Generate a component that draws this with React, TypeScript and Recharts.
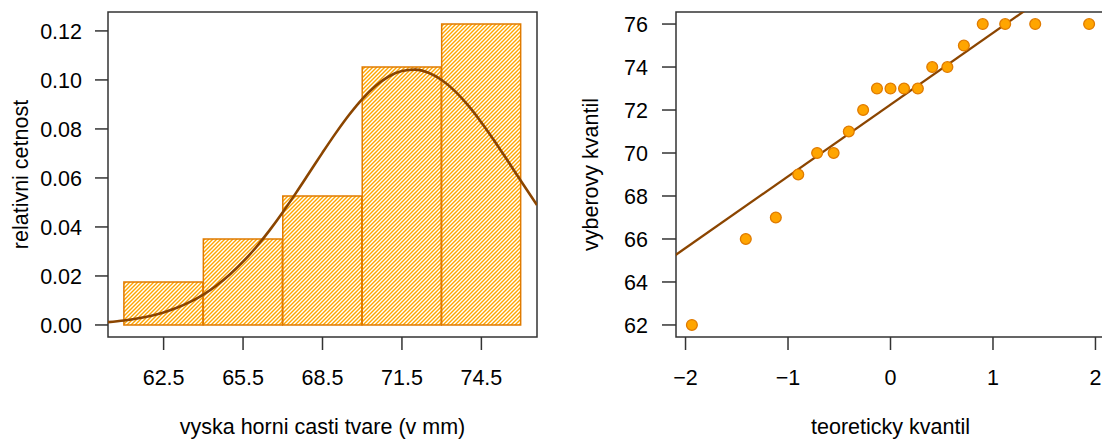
import React from 'react'
import {
  ComposedChart,
  Bar,
  Line,
  Scatter,
  XAxis,
  YAxis,
  ReferenceArea,
  Label,
} from 'recharts'

// histogram: bins of 3 mm, relative frequency density
const binMid = [62.5, 65.5, 68.5, 71.5, 74.5]
const binDensity = [0.01754, 0.03509, 0.05263, 0.10526, 0.12281]
const histTicks = [62.5, 65.5, 68.5, 71.5, 74.5]
const densityTicks = [0, 0.02, 0.04, 0.06, 0.08, 0.1, 0.12]

// fitted normal curve
const curveX = [
  60.4, 61, 61.5, 62, 62.5, 63, 63.5, 64, 64.5, 65, 65.5, 66, 66.5, 67, 67.5,
  68, 68.5, 69, 69.5, 70, 70.5, 71, 71.5, 72, 72.5, 73, 73.5, 74, 74.5, 75,
  75.5, 76, 76.6,
]
const curveY = [
  0.00115, 0.00182, 0.00261, 0.00369, 0.00513, 0.0070, 0.00941, 0.01242,
  0.01612, 0.02058, 0.02581, 0.03183, 0.0386, 0.046, 0.0539, 0.06209, 0.07033,
  0.07829, 0.08568, 0.09218, 0.09751, 0.1014, 0.1036, 0.1042, 0.1029, 0.09995,
  0.09544, 0.08958, 0.08266, 0.075, 0.06688, 0.05864, 0.04896,
]

// QQ plot
const theoQ = [
  -1.938, -1.412, -1.119, -0.9, -0.716, -0.555, -0.407, -0.267, -0.132, 0,
  0.132, 0.267, 0.407, 0.555, 0.716, 0.9, 1.119, 1.412, 1.938,
]
const sampleQ = [
  62, 66, 67, 69, 70, 70, 71, 72, 73, 73, 73, 73, 74, 74, 75, 76, 76, 76, 76,
]
const qqLineX = [-2.2, 1.4]
const qqLineY = [64.91, 76.92]
const qqXTicks = [-2, -1, 0, 1, 2]
const qqYTicks = [62, 64, 66, 68, 70, 72, 74, 76]

const histDomainX: [number, number] = [60.4, 76.6]
const histDomainY: [number, number] = [-0.00491, 0.12772]
const qqDomainX: [number, number] = [-2.093, 2.093]
const qqDomainY: [number, number] = [61.44, 76.56]

const FONT = '"Liberation Sans", Arial, Helvetica, sans-serif'
const FS = 21.5
const AXIS = '#333333'
const ORANGE = '#FFA500'
const BORDER = '#E07B00'
const BROWN = '#8B4500'

const histData = binMid.map((x, i) => ({ x, density: binDensity[i] }))
const curveData = curveX.map((x, i) => ({ x, y: curveY[i] }))
const qqData = theoQ.map((x, i) => ({ x, y: sampleQ[i] }))
const qqLineData = qqLineX.map((x, i) => ({ x, y: qqLineY[i] }))

const tickStyle = { fontSize: FS, fontFamily: FONT, fill: '#000' }
const margin = { top: 12, right: 14, bottom: 0, left: 0 }

const xTitle = (text: string) => (props: any) => {
  const { viewBox } = props
  return (
    <text
      x={viewBox.x + viewBox.width / 2}
      y={viewBox.y + 97}
      textAnchor="middle"
      fontSize={FS}
      fontFamily={FONT}
      fill="#000"
    >
      {text}
    </text>
  )
}

const yTitle = (text: string, x: number) => (props: any) => {
  const { viewBox } = props
  const cy = viewBox.y + viewBox.height / 2
  return (
    <text
      x={x}
      y={cy}
      transform={`rotate(-90, ${x}, ${cy})`}
      textAnchor="middle"
      fontSize={FS}
      fontFamily={FONT}
      fill="#000"
    >
      {text}
    </text>
  )
}

const Dot = (props: any) => {
  const { cx, cy } = props
  return (
    <circle cx={cx} cy={cy} r={5.4} fill={ORANGE} stroke={BORDER} strokeWidth={1.3} />
  )
}

const App: React.FC = () => {
  return (
    <div
      style={{
        position: 'fixed',
        left: 0,
        top: 0,
        width: 1102,
        height: 440,
        overflow: 'hidden',
        background: '#fff',
      }}
    >
      <svg width={0} height={0} style={{ position: 'absolute' }}>
        <defs>
          <pattern id="hatch" patternUnits="userSpaceOnUse" width={4} height={4}>
            <path
              d="M-1,1 L1,-1 M0,4 L4,0 M3,5 L5,3"
              stroke={ORANGE}
              strokeWidth={1.4}
            />
          </pattern>
        </defs>
      </svg>
      <div style={{ position: 'absolute', left: 0, top: 0 }}>
        <ComposedChart width={551} height={440} data={histData} margin={margin} barCategoryGap={0} barGap={0}>
          <XAxis
            dataKey="x"
            type="number"
            domain={histDomainX}
            allowDataOverflow
            ticks={histTicks}
            tickFormatter={(v: number) => v.toFixed(1)}
            interval={0}
            height={103}
            axisLine={false}
            tickSize={13}
            tickMargin={20}
            tickLine={{ stroke: AXIS, strokeWidth: 1.5 }}
            tick={tickStyle}
          >
            <Label content={xTitle('vyska horni casti tvare (v mm)')} />
          </XAxis>
          <XAxis xAxisId="curve" dataKey="x" type="number" domain={histDomainX} allowDataOverflow hide />
          <YAxis
            type="number"
            domain={histDomainY}
            allowDataOverflow
            ticks={densityTicks}
            tickFormatter={(v: number) => v.toFixed(2)}
            interval={0}
            width={108}
            axisLine={false}
            tickSize={13}
            tickMargin={13}
            tickLine={{ stroke: AXIS, strokeWidth: 1.5 }}
            tick={tickStyle}
          >
            <Label content={yTitle('relativni cetnost', 28)} />
          </YAxis>
          <Bar
            dataKey="density"
            fill="url(#hatch)"
            stroke={BORDER}
            strokeWidth={1.5}
            isAnimationActive={false}
          />
          <Line
            xAxisId="curve"
            data={curveData}
            dataKey="y"
            type="monotone"
            stroke={BROWN}
            strokeWidth={2.6}
            dot={false}
            activeDot={false}
            isAnimationActive={false}
          />
          <ReferenceArea
            x1={histDomainX[0]}
            x2={histDomainX[1]}
            y1={histDomainY[0]}
            y2={histDomainY[1]}
            fill="none"
            fillOpacity={0}
            stroke={AXIS}
            strokeWidth={1.5}
            ifOverflow="visible"
          />
        </ComposedChart>
      </div>
      <div style={{ position: 'absolute', left: 568, top: 0 }}>
        <ComposedChart width={551} height={440} margin={margin}>
          <XAxis
            dataKey="x"
            type="number"
            domain={qqDomainX}
            allowDataOverflow
            ticks={qqXTicks}
            tickFormatter={(v: number) => (v < 0 ? `\u2212${Math.abs(v)}` : `${v}`)}
            interval={0}
            height={103}
            axisLine={false}
            tickSize={13}
            tickMargin={20}
            tickLine={{ stroke: AXIS, strokeWidth: 1.5 }}
            tick={tickStyle}
          >
            <Label content={xTitle('teoreticky kvantil')} />
          </XAxis>
          <YAxis
            dataKey="y"
            type="number"
            domain={qqDomainY}
            allowDataOverflow
            ticks={qqYTicks}
            interval={0}
            width={108}
            axisLine={false}
            tickSize={14}
            tickMargin={14}
            tickLine={{ stroke: AXIS, strokeWidth: 1.5 }}
            tick={tickStyle}
          >
            <Label content={yTitle('vyberovy kvantil', 30)} />
          </YAxis>
          <Line
            data={qqLineData}
            dataKey="y"
            type="linear"
            stroke={BROWN}
            strokeWidth={2.3}
            dot={false}
            activeDot={false}
            isAnimationActive={false}
          />
          <Scatter data={qqData} dataKey="y" shape={Dot} isAnimationActive={false} />
          <ReferenceArea
            x1={qqDomainX[0]}
            x2={qqDomainX[1]}
            y1={qqDomainY[0]}
            y2={qqDomainY[1]}
            fill="none"
            fillOpacity={0}
            stroke={AXIS}
            strokeWidth={1.5}
            ifOverflow="visible"
          />
        </ComposedChart>
      </div>
    </div>
  )
}

export default App
